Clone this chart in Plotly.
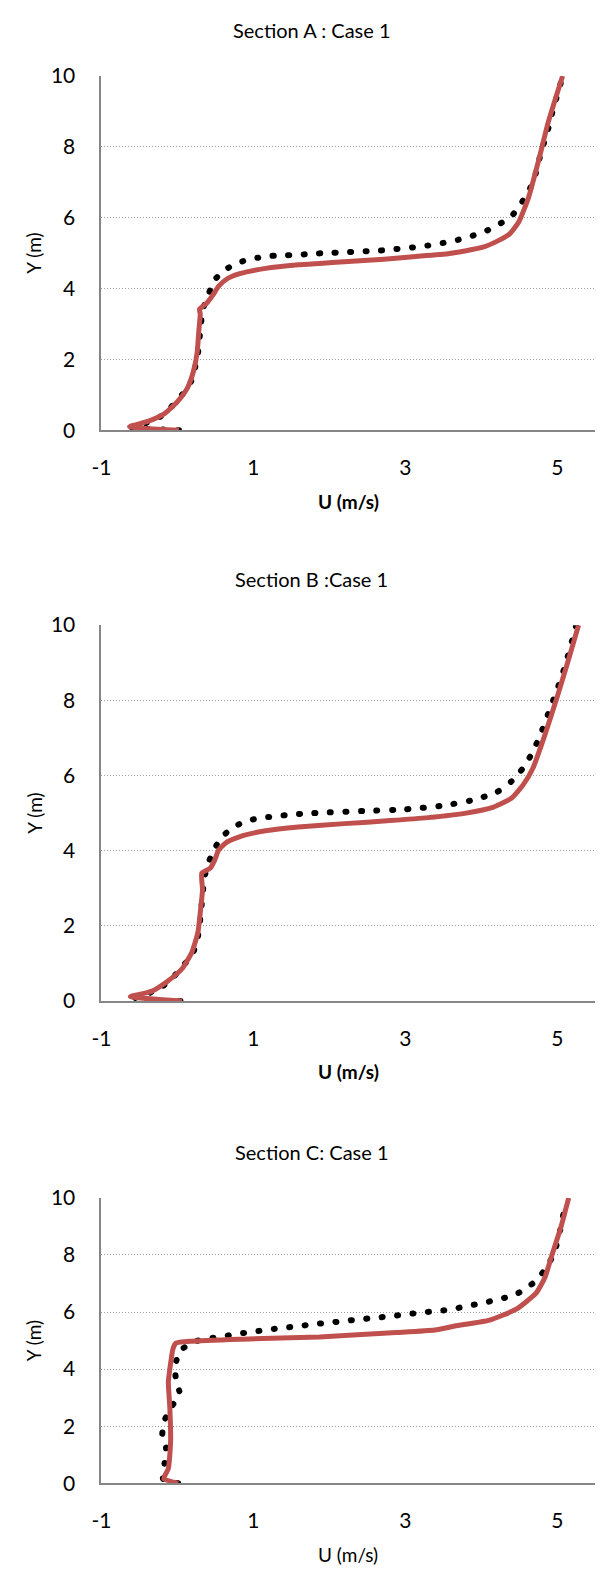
import plotly.graph_objects as go

# ---------------- data ----------------
titles = ["Section A : Case 1", "Section B :Case 1", "Section C: Case 1"]
x_labels = ["U (m/s)", "U (m/s)", "U (m/s)"]
x_label_bold = [True, True, False]
y_label = "Y (m)"
x_ticks = [-1, 1, 3, 5]
x_tick_text = ["-1", "1", "3", "5"]
y_ticks = [0, 2, 4, 6, 8, 10]
y_tick_text = ["0", "2", "4", "6", "8", "10"]

# Section A
a_dot_u = [0.02, -0.19, -0.40, -0.60, -0.42, -0.23, -0.09, 0.06, 0.18, 0.23, 0.27, 0.29, 0.31, 0.34,
           0.41, 0.49, 0.64, 0.81, 1.00, 1.23, 1.43, 1.63, 1.84, 2.04, 2.24, 2.44, 2.65, 2.85, 3.05,
           3.25, 3.45, 3.65, 3.85, 4.04, 4.22, 4.39, 4.51, 4.62, 4.70, 4.75, 4.80, 4.86, 4.91, 4.96,
           5.02, 5.07]
a_dot_y = [0.00, 0.02, 0.04, 0.08, 0.20, 0.38, 0.64, 1.00, 1.38, 1.75, 2.17, 2.58, 3.03, 3.44,
           3.85, 4.25, 4.55, 4.74, 4.85, 4.92, 4.94, 4.96, 4.99, 5.01, 5.03, 5.05, 5.07, 5.11, 5.15,
           5.20, 5.27, 5.35, 5.47, 5.60, 5.80, 6.02, 6.36, 6.73, 7.12, 7.54, 7.95, 8.34, 8.77, 9.18,
           9.60, 10.0]
a_line_u = [0.02, -0.63, -0.39, -0.17, 0.00, 0.13, 0.21, 0.26, 0.28, 0.30, 0.29, 0.39, 0.47, 0.54,
            0.65, 0.82, 1.16, 1.59, 1.87, 2.30, 2.72, 3.10, 3.58, 4.01, 4.23, 4.38, 4.49, 4.62, 4.75,
            4.88, 5.07]
a_line_y = [0.00, 0.10, 0.25, 0.47, 0.81, 1.19, 1.66, 2.21, 2.77, 3.28, 3.42, 3.60, 3.83, 4.06,
            4.27, 4.42, 4.57, 4.67, 4.71, 4.77, 4.83, 4.90, 4.99, 5.16, 5.36, 5.56, 5.87, 6.56, 7.58,
            8.69, 10.0]

# Section B
b_dot_u = [0.04, -0.17, -0.37, -0.56, -0.26, -0.07, 0.06, 0.19, 0.26, 0.29, 0.31, 0.33, 0.35, 0.39,
           0.47, 0.57, 0.72, 0.90, 1.10, 1.30, 1.50, 1.70, 2.00, 2.50, 3.00, 3.50, 3.90, 4.20, 4.40,
           4.55, 4.67, 4.78, 4.89, 5.00, 5.10, 5.25]
b_dot_y = [0.00, 0.00, 0.00, 0.08, 0.30, 0.60, 0.91, 1.21, 1.60, 2.00, 2.39, 2.80, 3.22, 3.59,
           3.98, 4.34, 4.60, 4.79, 4.87, 4.92, 4.96, 4.99, 5.02, 5.06, 5.10, 5.20, 5.35, 5.55, 5.85,
           6.20, 6.60, 7.10, 7.70, 8.30, 8.90, 10.0]
b_line_u = [0.06, -0.62, -0.35, -0.13, 0.06, 0.19, 0.27, 0.30, 0.33, 0.32, 0.43, 0.49, 0.54, 0.65,
            0.86, 1.16, 1.59, 2.20, 2.80, 3.30, 3.80, 4.15, 4.40, 4.55, 4.68, 4.84, 5.00, 5.15, 5.28]
b_line_y = [0.00, 0.12, 0.25, 0.53, 0.86, 1.30, 1.83, 2.35, 2.96, 3.40, 3.53, 3.75, 4.01, 4.23,
            4.40, 4.53, 4.63, 4.72, 4.80, 4.88, 5.00, 5.15, 5.40, 5.75, 6.20, 7.10, 8.10, 9.10, 10.0]

# Section C
c_dot_u = [0.01, -0.19, -0.17, -0.15, -0.20, -0.17, -0.07, 0.03, -0.02, -0.03, 0.03, 0.20, 0.40,
           0.60, 0.80, 1.00, 1.21, 1.40, 1.61, 1.81, 2.01, 2.21, 2.41, 2.62, 2.82, 3.02, 3.22, 3.42,
           3.62, 3.82, 4.02, 4.22, 4.41, 4.59, 4.74, 4.86, 4.96, 5.04, 5.10]
c_dot_y = [0.00, 0.16, 0.70, 1.23, 1.71, 2.21, 2.71, 3.15, 3.61, 4.13, 4.63, 4.95, 5.07, 5.15,
           5.24, 5.31, 5.39, 5.45, 5.51, 5.58, 5.63, 5.69, 5.75, 5.80, 5.86, 5.92, 5.99, 6.03, 6.10,
           6.22, 6.31, 6.45, 6.56, 6.83, 7.14, 7.58, 8.06, 8.90, 9.70]
c_line_u = [0.01, -0.18, -0.12, -0.09, -0.10, -0.12, -0.10, -0.06, -0.02, 0.19, 0.85, 1.87, 2.88,
            3.39, 3.65, 4.11, 4.46, 4.72, 4.84, 4.92, 5.05, 5.15]
c_line_y = [0.00, 0.16, 0.51, 1.48, 2.63, 3.55, 4.01, 4.70, 4.91, 4.98, 5.05, 5.13, 5.28, 5.37,
            5.51, 5.72, 6.10, 6.66, 7.23, 7.92, 9.00, 10.0]

panels = [
    (a_dot_u, a_dot_y, a_line_u, a_line_y),
    (b_dot_u, b_dot_y, b_line_u, b_line_y),
    (c_dot_u, c_dot_y, c_line_u, c_line_y),
]

# ---------------- layout (pixels) ----------------
W, H = 613, 1574
plot_left, plot_right = 93, 595
plot_tops = [63, 621, 1203]
plot_bottoms = [423, 1003, 1493]

FONT = "Lato, 'Open Sans', sans-serif"
RED = "#C0504D"
AXIS = "#868686"
GRID = "#9C9C9C"

def py(p):  # pixel (from top) -> paper fraction
    return 1 - p / H

fig = go.Figure()
annotations = []
for i, (du, dy, lu, ly) in enumerate(panels):
    xa = "x" if i == 0 else f"x{i+1}"
    ya = "y" if i == 0 else f"y{i+1}"
    fig.add_trace(go.Scatter(x=du, y=dy, mode="lines", xaxis=xa, yaxis=ya,
                             line=dict(color="black", width=6, dash="1px,14.5px",
                                       shape="spline", smoothing=0.4),
                             showlegend=False, hoverinfo="skip"))
    fig.add_trace(go.Scatter(x=lu, y=ly, mode="lines", xaxis=xa, yaxis=ya,
                             line=dict(color=RED, width=5, shape="spline", smoothing=0.5),
                             showlegend=False, hoverinfo="skip"))
    xkey = "xaxis" if i == 0 else f"xaxis{i+1}"
    ykey = "yaxis" if i == 0 else f"yaxis{i+1}"
    fig.update_layout(**{
        xkey: dict(domain=[plot_left / W, plot_right / W], anchor=ya, range=[-1, 5.5],
                   tickvals=x_ticks, ticktext=x_tick_text, showgrid=False, zeroline=False,
                   showline=True, linecolor=AXIS, linewidth=2, ticks="", ticklabelstandoff=18,
                   tickfont=dict(family=FONT, size=21, color="black"), fixedrange=True),
        ykey: dict(domain=[py(plot_bottoms[i]), py(plot_tops[i])], anchor=xa, range=[0, 10],
                   tickvals=y_ticks, ticktext=y_tick_text, showgrid=True, gridcolor=GRID,
                   griddash="1px,2px", gridwidth=1,
                   zeroline=False, showline=True, linecolor=AXIS, linewidth=2, ticks="",
                   ticklabelstandoff=20,
                   tickfont=dict(family=FONT, size=21, color="black"), fixedrange=True),
    })
    # title
    annotations.append(dict(text=titles[i], x=0.5, y=py(plot_tops[i] - 47), xref="paper",
                            yref="paper", showarrow=False, xanchor="center", yanchor="middle",
                            font=dict(family=FONT, size=20, color="black")))
    # x label
    lbl = f"<b>{x_labels[i]}</b>" if x_label_bold[i] else x_labels[i]
    annotations.append(dict(text=lbl, x=(plot_left + plot_right) / 2 / W,
                            y=py(plot_bottoms[i] + 72), xref="paper", yref="paper",
                            showarrow=False, xanchor="center", yanchor="middle",
                            font=dict(family=FONT, size=19, color="black")))
    # y label
    annotations.append(dict(text=y_label, x=24 / W,
                            y=py((plot_tops[i] + plot_bottoms[i]) / 2), xref="paper",
                            yref="paper", showarrow=False, xanchor="center", yanchor="middle",
                            textangle=-90, font=dict(family=FONT, size=19, color="black")))

fig.update_layout(width=W, height=H, margin=dict(l=0, r=0, t=0, b=0),
                  paper_bgcolor="white", plot_bgcolor="white", annotations=annotations,
                  showlegend=False)

post = """
(function(){
  document.documentElement.style.margin = '0';
  document.documentElement.style.padding = '0';
  document.body.style.margin = '0';
  document.body.style.padding = '0';
  document.body.style.overflow = 'hidden';
  var gd = document.getElementById('{plot_id}');
  function fix(){
    gd.querySelectorAll('path.js-line').forEach(function(p){
      var d = p.style.strokeDasharray;
      if (d && d !== 'none') { p.style.strokeLinecap = 'round'; }
    });
  }
  fix();
  if (gd.on) { gd.on('plotly_afterplot', fix); }
  setTimeout(fix, 50);
})();
"""
fig.write_html("out.html", post_script=post, config={"displayModeBar": False})
